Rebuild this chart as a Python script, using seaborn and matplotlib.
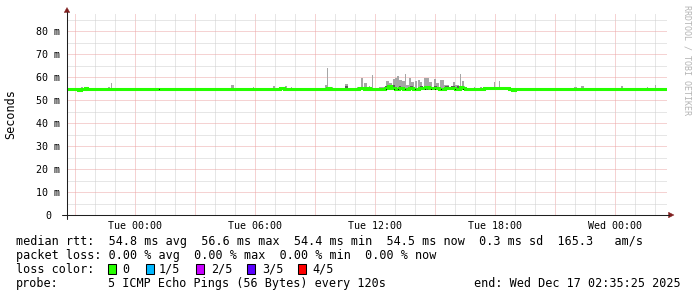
import matplotlib
matplotlib.use("Agg")
import matplotlib.pyplot as plt
import matplotlib.transforms as mtransforms
from matplotlib.lines import Line2D
from matplotlib.patches import Polygon, Rectangle
from matplotlib.ticker import MultipleLocator, FixedLocator, FixedFormatter
import numpy as np
import pandas as pd
import seaborn as sns

# ---------------- data (time in hours relative to Tue 00:00) ----------------
t_start = -3.41
t_end = 26.59

median_hours = [-3.41, -3.13, -2.87, -2.70, -2.53, -2.40, -1.42, -1.25, -1.17, -0.75,
                -0.42, 0.30, 0.97, 1.17, 1.47, 1.70, 1.87, 2.13, 2.25, 2.42,
                2.55, 2.70, 2.83, 3.25, 3.42, 3.67,
                7.25, 7.42, 7.58, 8.17, 8.42, 9.42, 9.58, 9.75, 9.92, 11.17,
                11.42, 11.58, 11.75, 12.00, 12.20, 12.50, 12.65, 12.80, 13.00, 13.20,
                13.40, 13.70, 13.90, 14.20, 14.50, 14.70, 14.95, 15.20, 15.50, 15.80,
                16.00, 16.25, 16.35, 16.50, 17.42, 18.67, 18.83, 19.00, 21.83, 22.08]
median_ms = [54.9, 54.6, 54.4, 54.9, 55.2, 54.6, 54.9, 54.6, 54.9, 54.6,
             54.9, 54.6, 54.8, 54.6, 54.9, 54.6, 54.9, 54.6, 54.9, 54.6,
             54.9, 54.6, 54.9, 54.6, 54.9, 54.6,
             55.2, 54.9, 54.6, 54.9, 54.6, 54.9, 55.2, 54.9, 54.6, 55.2,
             54.9, 55.2, 54.8, 54.6, 54.9, 55.4, 56.0, 55.2, 55.0, 55.3,
             54.9, 55.2, 55.0, 55.3, 55.5, 55.1, 55.3, 54.9, 55.1, 55.3,
             55.0, 55.6, 55.2, 54.6, 55.1, 54.6, 54.4, 54.6, 54.9, 54.6]

smoke_start = [-2.70, -1.35, -1.23, 0.62, 4.80, 5.90, 6.87, 7.50, 7.78, 8.48,
               9.50, 9.60, 9.67, 10.20, 10.50, 10.80, 11.08, 11.28, 11.45, 11.67,
               11.83, 12.17, 12.53, 12.70, 12.87, 12.97, 13.07, 13.20, 13.33, 13.47,
               13.53, 13.67, 13.80, 13.97, 14.13, 14.25, 14.42, 14.70, 14.92, 15.03,
               15.25, 15.42, 15.88, 16.00, 16.22, 16.33, 16.43, 16.92, 17.25, 17.93,
               18.17, 18.67, 19.00, 19.33, 19.58, 20.03, 21.58, 21.92, 22.30, 22.83,
               24.28, 24.87, 25.58, 25.97]
smoke_end = [-2.60, -1.28, -1.17, 0.67, 4.92, 5.95, 7.00, 7.60, 7.83, 8.53,
             9.60, 9.65, 9.87, 10.30, 10.63, 10.90, 11.25, 11.38, 11.58, 11.75,
             11.88, 12.50, 12.70, 12.83, 12.97, 13.07, 13.20, 13.33, 13.47, 13.53,
             13.67, 13.80, 13.93, 14.10, 14.23, 14.33, 14.70, 14.83, 15.03, 15.20,
             15.42, 15.67, 16.00, 16.17, 16.28, 16.43, 16.50, 17.00, 17.33, 18.00,
             18.23, 18.83, 19.20, 19.42, 19.63, 20.08, 21.63, 22.08, 22.42, 23.00,
             24.40, 24.92, 25.63, 26.03]
smoke_top = [55.8, 55.8, 57.2, 55.4, 56.5, 55.5, 56.1, 56.1, 55.5, 55.4,
             56.5, 64.0, 55.6, 55.4, 57.0, 55.4, 55.6, 59.7, 57.4, 56.0,
             60.9, 55.8, 58.3, 57.2, 59.0, 59.7, 60.4, 58.7, 58.3, 61.3,
             56.5, 59.7, 58.0, 58.3, 58.7, 58.0, 59.4, 58.0, 59.0, 57.2,
             58.6, 56.5, 58.0, 56.5, 61.3, 58.3, 56.0, 55.6, 55.5, 57.7,
             58.3, 55.4, 55.4, 55.3, 55.3, 55.3, 55.3, 55.7, 56.1, 55.4,
             56.1, 55.4, 55.8, 56.5]

dark_start = [10.50, 12.50, 12.87, 13.17, 13.75, 14.25, 14.58, 14.92, 15.50, 15.80, 16.08]
dark_end = [10.63, 12.63, 13.00, 13.30, 13.87, 14.37, 14.75, 15.08, 15.67, 15.97, 16.25]
dark_top = [56.3, 56.2, 56.5, 56.0, 56.3, 56.0, 56.3, 56.0, 55.9, 56.2, 56.0]

speck_hours = [1.17, 12.53, 12.92, 13.13, 13.50, 14.00, 14.47, 14.77, 15.00, 15.30, 16.00, 16.37]

x_tick_hours = [0, 6, 12, 18, 24]
x_tick_labels = ["Tue 00:00", "Tue 06:00", "Tue 12:00", "Tue 18:00", "Wed 00:00"]
y_tick_values = [0, 10, 20, 30, 40, 50, 60, 70, 80]
y_tick_labels = ["0", "10 m", "20 m", "30 m", "40 m", "50 m", "60 m", "70 m", "80 m"]
y_top = 87.83

loss_labels = ["0", "1/5", "2/5", "3/5", "4/5"]
loss_colors = ["#26ff00", "#00b8ff", "#c800ff", "#5a00ff", "#ff0000"]

row_rtt = "median rtt:  54.8 ms avg  56.6 ms max  54.4 ms min  54.5 ms now  0.3 ms sd  165.3   am/s"
row_loss = "packet loss: 0.00 % avg  0.00 % max  0.00 % min  0.00 % now"
row_color = "loss color:"
probe_label = "probe:"
probe_text = "5 ICMP Echo Pings (56 Bytes) every 120s"
end_text = "end: Wed Dec 17 02:35:25 2025"
watermark = "RRDTOOL / TOBI OETIKER"

# ---------------- style ----------------
sns.set_theme(style="white")
plt.rcParams['font.family'] = ['DejaVu Sans Mono', 'DejaVu Sans']

W, H = 697, 297
fig = plt.figure(figsize=(W / 100, H / 100), dpi=100)
fig.patch.set_facecolor("white")
pix = mtransforms.Affine2D().scale(1 / W, -1 / H).translate(0, 1) + fig.transFigure

ax = fig.add_axes([67 / W, 1 - 215 / H, 600 / W, 202 / H])
ax.set_facecolor("white")
for s in ax.spines.values():
    s.set_visible(False)

GRID = "#cfcfcf"
MGRID = "#eca6a6"
AXIS = "#1f1f1f"
ARROW = "#801f1f"
SMOKE = "#a6a6a6"
SMOKE_DARK = "#5a5a5a"

# smoke
base = 54.5
ax.bar(smoke_start, [t - base for t in smoke_top], width=np.array(smoke_end) - np.array(smoke_start),
       bottom=base, align="edge", color=SMOKE, linewidth=0, zorder=2)
ax.bar(dark_start, [t - base for t in dark_top], width=np.array(dark_end) - np.array(dark_start),
       bottom=base, align="edge", color=SMOKE_DARK, linewidth=0, zorder=2.1)

# median line
med = pd.DataFrame({"hour": median_hours + [t_end], "rtt": median_ms + [median_ms[-1]]})
sns.lineplot(data=med, x="hour", y="rtt", ax=ax, color=loss_colors[0], linewidth=2.2,
             drawstyle="steps-post", estimator=None, sort=False, zorder=3,
             solid_capstyle="butt", solid_joinstyle="miter")

# black specks
ax.bar(speck_hours, [0.7] * len(speck_hours), width=0.05, bottom=54.2, align="edge",
       color="#111111", linewidth=0, zorder=4)

ax.set_xlim(t_start, t_end)
ax.set_ylim(0, y_top)

# grids
ax.xaxis.set_major_locator(MultipleLocator(3))
ax.xaxis.set_minor_locator(MultipleLocator(1))
ax.yaxis.set_major_locator(FixedLocator(y_tick_values))
ax.yaxis.set_minor_locator(MultipleLocator(5))
ax.set_axisbelow(True)
ax.grid(which="minor", color=GRID, linestyle=(0, (1, 1)), linewidth=0.72)
ax.grid(which="major", color=MGRID, linestyle=(0, (1, 1)), linewidth=0.72)

xlab_map = dict(zip(x_tick_hours, x_tick_labels))
ax.xaxis.set_major_formatter(plt.FuncFormatter(
    lambda v, p: xlab_map.get(int(round(v)), "") if abs(v - round(v)) < 1e-6 else ""))
ax.yaxis.set_major_formatter(FixedFormatter(y_tick_labels))

ax.tick_params(axis="x", which="major", length=2.2, width=0.75, color=AXIS, direction="out",
               pad=2.0, labelsize=7.2, labelcolor="black")
ax.tick_params(axis="x", which="minor", length=0)
ax.tick_params(axis="y", which="major", length=1.5, width=0.75, color=MGRID, direction="out",
               pad=12.2, labelsize=7.2, labelcolor="black")
ax.tick_params(axis="y", which="minor", length=0)
for lab in ax.get_yticklabels():
    lab.set_horizontalalignment("center")

ax.set_xlabel("")
ax.set_ylabel("Seconds", fontsize=8.5, color="black", va="center", ha="center")
ax.yaxis.set_label_coords((10.8 - 67) / 600, 0.5)

# axis lines with arrows
fig.add_artist(Line2D([67, 67], [218.5, 12], transform=pix, color=AXIS, linewidth=0.75))
fig.add_artist(Line2D([62, 669], [215, 215], transform=pix, color=AXIS, linewidth=0.75))
fig.add_artist(Polygon([[64.2, 12.5], [69.8, 12.5], [67, 7.5]], closed=True, transform=pix,
                       facecolor=ARROW, edgecolor=ARROW, linewidth=0.3))
fig.add_artist(Polygon([[668.5, 212.2], [668.5, 217.8], [674, 215]], closed=True, transform=pix,
                       facecolor=ARROW, edgecolor=ARROW, linewidth=0.3))

# watermark
fig.text(687, 5, watermark, transform=pix, rotation=270, ha="center", va="top",
         fontsize=6, color="#b4b4b4")

# legend rows
LFS = 8.5
fig.text(16, 245, row_rtt, transform=pix, ha="left", va="baseline", fontsize=LFS, color="black")
fig.text(16, 259, row_loss, transform=pix, ha="left", va="baseline", fontsize=LFS, color="black")
fig.text(16, 273, row_color, transform=pix, ha="left", va="baseline", fontsize=LFS, color="black")
box_x = [108, 146, 196, 247, 298]
label_x = [122, 159, 211, 262, 312]
for bx, lx, lab, col in zip(box_x, label_x, loss_labels, loss_colors):
    fig.add_artist(Rectangle((bx, 274), 8, -10, transform=pix, facecolor=col,
                             edgecolor="black", linewidth=0.75))
    fig.text(lx, 273, lab, transform=pix, ha="left", va="baseline", fontsize=LFS, color="black")
fig.text(16, 287, probe_label, transform=pix, ha="left", va="baseline", fontsize=LFS, color="black")
fig.text(108, 287, probe_text, transform=pix, ha="left", va="baseline", fontsize=LFS, color="black")
fig.text(474, 287, end_text, transform=pix, ha="left", va="baseline", fontsize=LFS, color="black")

fig.savefig("out.png", dpi=100, facecolor="white")
